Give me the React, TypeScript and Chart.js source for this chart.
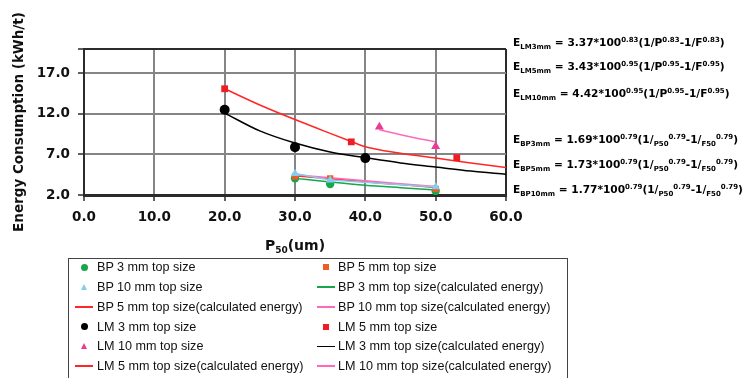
import React, { useEffect, useRef } from "react";
import { Chart, registerables } from "chart.js";

Chart.register(...registerables);

const BOLD_FONT = '"DejaVu Sans", Verdana, sans-serif';
const PLAIN_FONT = '"Liberation Sans", Arial, sans-serif';

// Measured specific energy, laboratory mill (LM)
const lm3P50 = [20, 30, 40];
const lm3Energy = [12.5, 7.9, 6.55];
const lm5P50 = [20, 38, 53];
const lm5Energy = [15.1, 8.55, 6.6];
const lm10P50 = [42, 50];
const lm10Energy = [10.4, 8.0];

// Measured specific energy, BP
const bp3P50 = [30, 35, 50];
const bp3Energy = [4.05, 3.35, 2.5];
const bp5P50 = [30, 35, 50];
const bp5Energy = [4.3, 4.05, 2.75];
const bp10P50 = [30, 35, 50];
const bp10Energy = [4.65, 3.85, 3.0];

// Calculated energy curves
const lm3CalcP50 = [20, 25, 30, 35, 40, 45, 50, 55, 60];
const lm3CalcEnergy = [12.1, 9.9, 8.4, 7.3, 6.6, 5.95, 5.45, 4.95, 4.55];
const lm5CalcP50 = [20, 25, 30, 35, 38, 40, 45, 50, 55, 60];
const lm5CalcEnergy = [15.1, 13.1, 11.3, 9.6, 8.6, 7.95, 7.15, 6.55, 5.95, 5.4];
const lm10CalcP50 = [42, 46, 50];
const lm10CalcEnergy = [10.05, 9.25, 8.55];
const bpCalcP50 = [30, 35, 40, 45, 50];
const bp3CalcEnergy = [4.05, 3.6, 3.2, 2.9, 2.62];
const bp5CalcEnergy = [4.38, 4.0, 3.62, 3.28, 2.92];
const bp10CalcEnergy = [4.5, 4.12, 3.75, 3.4, 3.05];

// Axis ticks
const xTickValues = [0, 10, 20, 30, 40, 50, 60];
const yTickValues = [2, 7, 12, 17, 20];
const yLabelledTicks = [2, 7, 12, 17];

// Fitted equation constants
const lmEquations = [
  { name: "LM3mm", coef: "3.37", exp: "0.83" },
  { name: "LM5mm", coef: "3.43", exp: "0.95" },
  { name: "LM10mm", coef: "4.42", exp: "0.95" },
];
const bpEquations = [
  { name: "BP3mm", coef: "1.69", exp: "0.79" },
  { name: "BP5mm", coef: "1.73", exp: "0.79" },
  { name: "BP10mm", coef: "1.77", exp: "0.79" },
];

const GREEN = "#16a64c";
const ORANGE = "#f05a24";
const SKY = "#86ccef";
const RED = "#ff2626";
const RED_MARK = "#ee1c25";
const PINK = "#ec3a96";
const PINK_LINE = "#ff6ab8";
const BLACK = "#000000";
const GRID = "#858585";
const FRAME = "#2b2b2b";

type Marker = "circle" | "rect" | "triangle";
interface Series {
  label: string;
  x: number[];
  y: number[];
  color: string;
  marker?: Marker;
  radius?: number;
  joined?: boolean;
  order: number;
}

// Listed in legend order (two columns, row by row)
const series: Series[] = [
  { label: "BP 3 mm top size", x: bp3P50, y: bp3Energy, color: GREEN, marker: "circle", radius: 4.2, order: 3 },
  { label: "BP 5 mm top size", x: bp5P50, y: bp5Energy, color: ORANGE, marker: "rect", radius: 4.4, order: 2 },
  { label: "BP 10 mm top size", x: bp10P50, y: bp10Energy, color: SKY, marker: "triangle", radius: 4.8, joined: true, order: 1 },
  { label: "BP 3 mm top size(calculated energy)", x: bpCalcP50, y: bp3CalcEnergy, color: GREEN, order: 6 },
  { label: "BP 5 mm top size(calculated energy)", x: bpCalcP50, y: bp5CalcEnergy, color: RED, order: 6 },
  { label: "BP 10 mm top size(calculated energy)", x: bpCalcP50, y: bp10CalcEnergy, color: PINK_LINE, order: 5 },
  { label: "LM 3 mm top size", x: lm3P50, y: lm3Energy, color: BLACK, marker: "circle", radius: 5, order: 0 },
  { label: "LM 5 mm top size", x: lm5P50, y: lm5Energy, color: RED_MARK, marker: "rect", radius: 4.8, order: 0 },
  { label: "LM 10 mm top size", x: lm10P50, y: lm10Energy, color: PINK, marker: "triangle", radius: 5.2, order: 0 },
  { label: "LM 3 mm top size(calculated energy)", x: lm3CalcP50, y: lm3CalcEnergy, color: BLACK, order: 6 },
  { label: "LM 5 mm top size(calculated energy)", x: lm5CalcP50, y: lm5CalcEnergy, color: RED, order: 6 },
  { label: "LM 10 mm top size(calculated energy)", x: lm10CalcP50, y: lm10CalcEnergy, color: PINK_LINE, order: 6 },
];

function toDataset(s: Series) {
  const data = s.x.map((v, i) => ({ x: v, y: s.y[i] }));
  if (s.marker) {
    return {
      label: s.label,
      data,
      order: s.order,
      showLine: !!s.joined,
      borderColor: s.color,
      borderWidth: 1.5,
      backgroundColor: s.color,
      pointStyle: s.marker,
      pointRadius: s.radius,
      pointBorderWidth: 0,
      pointBackgroundColor: s.color,
    };
  }
  return {
    label: s.label,
    data,
    order: s.order,
    showLine: true,
    borderColor: s.color,
    borderWidth: 1.5,
    pointRadius: 0,
    cubicInterpolationMode: "monotone",
  };
}

const tickFont = { family: BOLD_FONT, size: 13.5, weight: "bold" as const };

function EnergyChart() {
  const canvasRef = useRef<HTMLCanvasElement | null>(null);

  useEffect(() => {
    const canvas = canvasRef.current;
    if (!canvas) return;
    const chart = new Chart(canvas, {
      type: "scatter",
      data: { datasets: series.map(toDataset) as any },
      options: {
        responsive: false,
        animation: false,
        events: [],
        layout: { padding: { left: 0, right: 240, top: 49, bottom: 0 } },
        plugins: { legend: { display: false }, tooltip: { enabled: false } },
        scales: {
          x: {
            type: "linear",
            min: 0,
            max: 60,
            afterBuildTicks: (axis: any) => {
              axis.ticks = xTickValues.map((v) => ({ value: v }));
            },
            afterFit: (axis: any) => {
              axis.height = 63;
            },
            grid: {
              color: (ctx: any) => (ctx.tick && ctx.tick.value === 60 ? FRAME : GRID),
              lineWidth: 2,
              tickColor: FRAME,
              tickLength: 6,
              tickWidth: 1.5,
            },
            border: { color: FRAME, width: 3 },
            ticks: {
              font: tickFont,
              color: "#111",
              padding: 8,
              maxRotation: 0,
              autoSkip: false,
              callback: (v: any) => Number(v).toFixed(1),
            },
          },
          y: {
            type: "linear",
            min: 2,
            max: 20,
            afterBuildTicks: (axis: any) => {
              axis.ticks = yTickValues.map((v) => ({ value: v }));
            },
            afterFit: (axis: any) => {
              axis.width = 84;
            },
            grid: {
              color: (ctx: any) => (ctx.tick && ctx.tick.value === 20 ? FRAME : GRID),
              lineWidth: 2,
              tickColor: FRAME,
              tickLength: 6,
              tickWidth: 1.5,
            },
            border: { color: FRAME, width: 2 },
            ticks: {
              font: tickFont,
              color: "#111",
              padding: 8,
              autoSkip: false,
              callback: (v: any) => (yLabelledTicks.includes(Number(v)) ? Number(v).toFixed(1) : ""),
            },
            title: {
              display: true,
              text: "Energy Consumption (kWh/t)",
              color: "#111",
              font: { family: BOLD_FONT, size: 13.5, weight: "bold" },
              padding: { top: 11, bottom: 0 },
            },
          },
        },
      } as any,
    });
    return () => chart.destroy();
  }, []);

  return <canvas ref={canvasRef} width={746} height={258} style={{ position: "absolute", left: 0, top: 0 }} />;
}

const supStyle: React.CSSProperties = { fontSize: 7, position: "relative", top: -4.5, lineHeight: 0 };
const subStyle: React.CSSProperties = { fontSize: 7, position: "relative", top: 2.5, lineHeight: 0 };

const eqBase: React.CSSProperties = {
  position: "absolute",
  left: 513,
  fontFamily: BOLD_FONT,
  fontWeight: "bold",
  fontSize: 10.6,
  lineHeight: "16px",
  whiteSpace: "nowrap",
  color: "#000",
};

const lmEqTops = [34, 58, 85];
const bpEqTops = [131, 156, 181];

function Equations() {
  return (
    <>
      {lmEquations.map((e, i) => (
        <div key={e.name} style={{ ...eqBase, top: lmEqTops[i] }}>
          E<span style={subStyle}>{e.name}</span> = {e.coef}*100<span style={supStyle}>{e.exp}</span>(1/P
          <span style={supStyle}>{e.exp}</span>-1/F<span style={supStyle}>{e.exp}</span>)
        </div>
      ))}
      {bpEquations.map((e, i) => (
        <div key={e.name} style={{ ...eqBase, top: bpEqTops[i] }}>
          E<span style={subStyle}>{e.name}</span> = {e.coef}*100<span style={supStyle}>{e.exp}</span>(1/
          <span style={subStyle}>P50</span>
          <span style={supStyle}>{e.exp}</span>-1/<span style={subStyle}>F50</span>
          <span style={supStyle}>{e.exp}</span>)
        </div>
      ))}
    </>
  );
}

function LegendMarker({ s, cx, cy }: { s: Series; cx: number; cy: number }) {
  if (!s.marker) {
    return (
      <div style={{ position: "absolute", left: cx - 9, top: cy - 0.75, width: 18, height: 1.5, background: s.color }} />
    );
  }
  if (s.marker === "circle") {
    return (
      <div style={{ position: "absolute", left: cx - 3.5, top: cy - 3.5, width: 7, height: 7, borderRadius: "50%", background: s.color }} />
    );
  }
  if (s.marker === "rect") {
    return <div style={{ position: "absolute", left: cx - 3, top: cy - 3, width: 6, height: 6, background: s.color }} />;
  }
  return (
    <div
      style={{
        position: "absolute",
        left: cx - 3.5,
        top: cy - 3.5,
        width: 0,
        height: 0,
        borderLeft: "3.5px solid transparent",
        borderRight: "3.5px solid transparent",
        borderBottom: `6px solid ${s.color}`,
      }}
    />
  );
}

const legendRowTop = 267.3;
const legendRowStep = 19.75;
const legendMarkerX = [84, 326];
const legendTextX = [97, 338];

function Legend() {
  return (
    <>
      <div
        style={{
          position: "absolute",
          left: 68,
          top: 258,
          width: 500,
          height: 130,
          border: "1px solid #444",
          boxSizing: "border-box",
        }}
      />
      {series.map((s, i) => {
        const row = Math.floor(i / 2);
        const col = i % 2;
        const cy = legendRowTop + row * legendRowStep;
        return (
          <React.Fragment key={s.label}>
            <LegendMarker s={s} cx={legendMarkerX[col]} cy={cy} />
            <div
              style={{
                position: "absolute",
                left: legendTextX[col],
                top: cy - 8,
                fontFamily: PLAIN_FONT,
                fontSize: 12.6,
                lineHeight: "16px",
                color: "#111",
                whiteSpace: "nowrap",
              }}
            >
              {s.label}
            </div>
          </React.Fragment>
        );
      })}
    </>
  );
}

export default function App() {
  return (
    <div
      style={{
        position: "absolute",
        left: 0,
        top: 0,
        width: 746,
        height: 378,
        overflow: "hidden",
        background: "#fff",
      }}
    >
      <EnergyChart />
      <Equations />
      <div
        style={{
          position: "absolute",
          left: 195,
          top: 237,
          width: 200,
          textAlign: "center",
          fontFamily: BOLD_FONT,
          fontWeight: "bold",
          fontSize: 14,
          lineHeight: "16px",
          color: "#111",
        }}
      >
        P<span style={{ fontSize: 9, position: "relative", top: 3, lineHeight: 0 }}>50</span>(um)
      </div>
      <Legend />
    </div>
  );
}
